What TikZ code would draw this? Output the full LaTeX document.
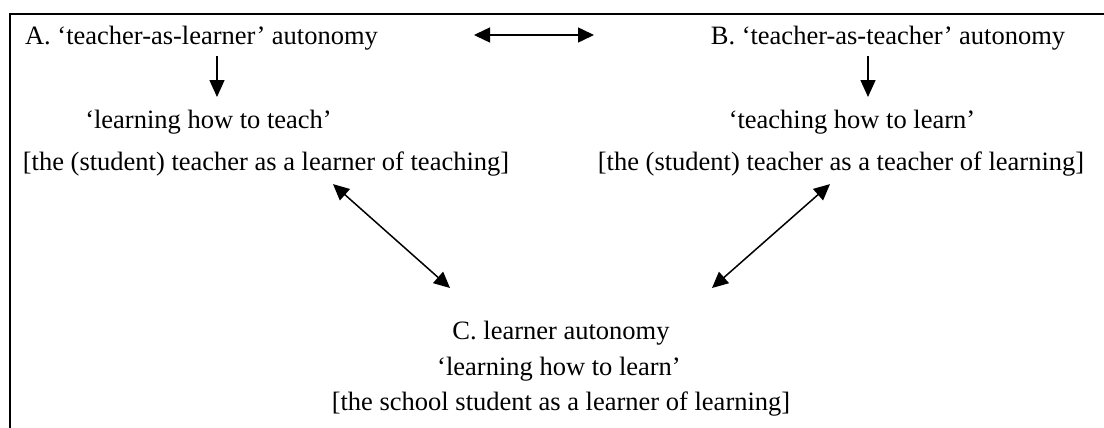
\documentclass[tikz,border=0pt]{standalone}
\usepackage{fontspec}
\setmainfont{Liberation Serif}
\usetikzlibrary{arrows.meta}
\tikzset{
  lbl/.style={anchor=base,inner sep=0pt,font=\fontsize{13.25}{15}\selectfont},
  tip/.style={-{Triangle[length=8.5pt,width=7.5pt]},line width=0.75pt},
  dtip/.style={{Triangle[length=8pt,width=7.5pt]}-{Triangle[length=8pt,width=7.5pt]},line width=0.75pt}
}
\begin{document}
\begin{tikzpicture}[x=0.5pt,y=-0.5pt]
  \useasboundingbox (0,0) rectangle (1104,428);
  % frame, open at right and bottom
  \draw[line width=1pt] (1104,14) -- (10,14) -- (10,428);

  \node[lbl] (Aline) at (201.5,45) {A. ‘teacher-as-learner’ autonomy};
  \node[lbl] (Ahow) at (208.5,128) {‘learning how to teach’};
  \node[lbl] (Arole) at (266,170) {[the (student) teacher as a learner of teaching]};

  \node[lbl] (Bline) at (888,45) {B. ‘teacher-as-teacher’ autonomy};
  \node[lbl] (Bhow) at (852,128) {‘teaching how to learn’};
  \node[lbl] (Brole) at (841,170) {[the (student) teacher as a teacher of learning]};

  \node[lbl] (Cline) at (561,339) {C. learner autonomy};
  \node[lbl] (Chow) at (559,375) {‘learning how to learn’};
  \node[lbl] (Crole) at (561,410) {[the school student as a learner of learning]};

  \coordinate (abl) at (474,35);
  \coordinate (abr) at (594,35);
  \coordinate (ad) at (217,97);
  \coordinate (bd) at (868,97);
  \coordinate (ac) at (450,288);
  \coordinate (bc) at (712,288);

  \draw[dtip] (abl) -- (abr);
  \draw[tip] (Aline.south -| ad) ++(0,5) -- (ad);
  \draw[tip] (Bline.south -| bd) ++(0,5) -- (bd);
  \draw[dtip] (Arole.south -| 333,0) ++(0,8) -- (ac);
  \draw[dtip] (Brole.south -| 830,0) ++(0,8) -- (bc);
\end{tikzpicture}
\end{document}
